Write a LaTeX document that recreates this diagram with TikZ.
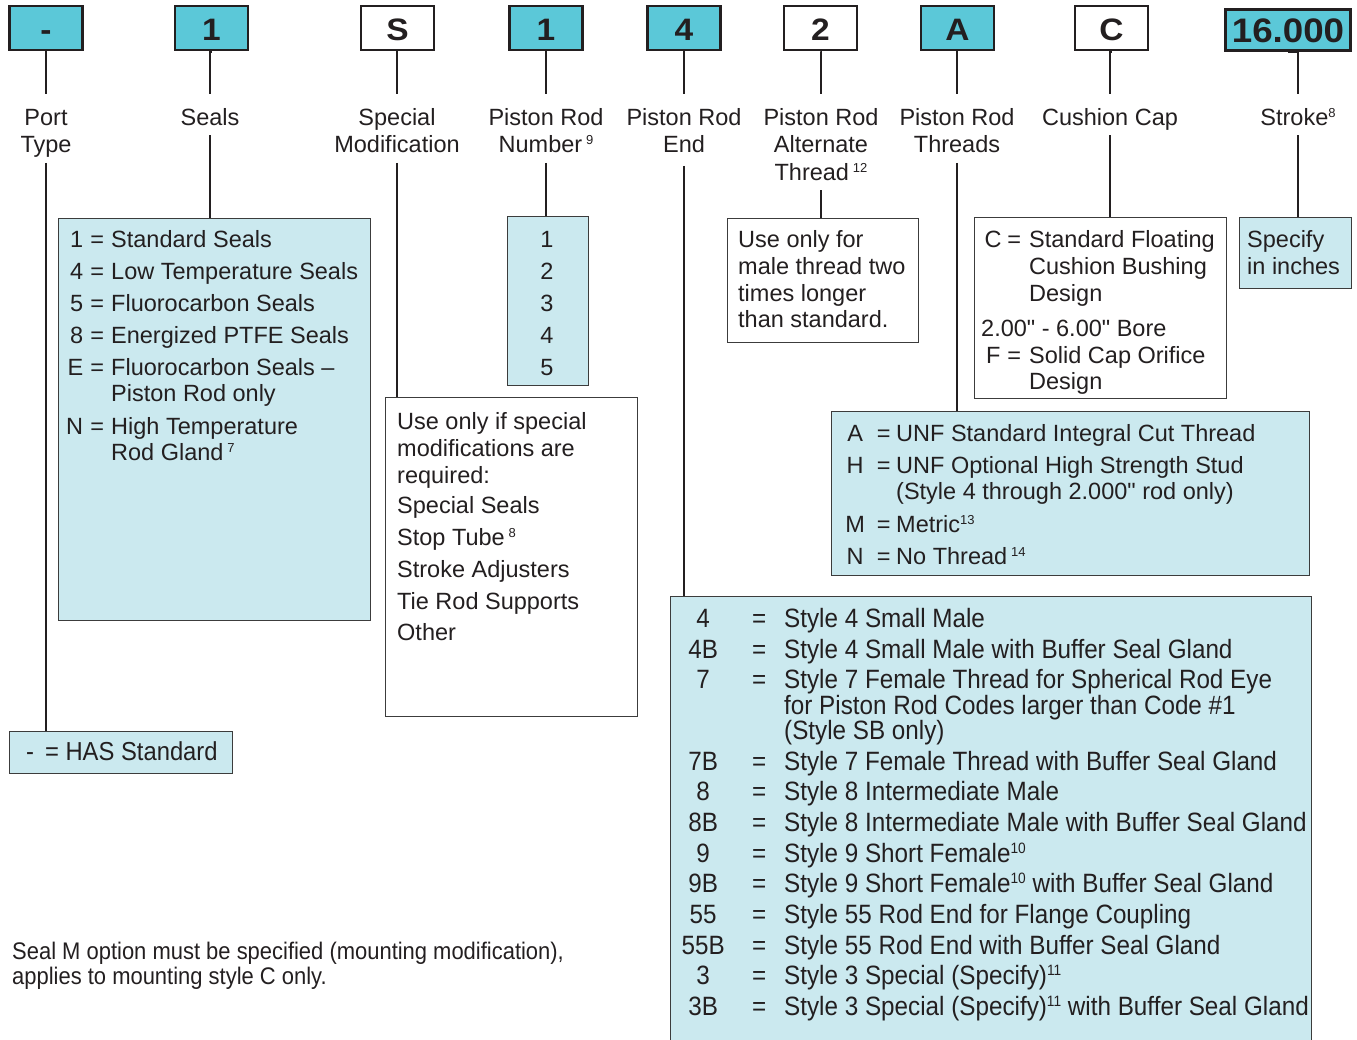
\documentclass[tikz,border=0pt]{standalone}
\usepackage{fontspec}
\setmainfont{Liberation Sans}
\newfontfamily\condfont[FakeStretch=0.915]{Liberation Sans}
\newfontfamily\codefont[FakeStretch=1.08]{Liberation Sans}
\newfontfamily\qfont[Ligatures=TeXOff]{Liberation Sans}
\definecolor{ink}{HTML}{231F20}
\definecolor{cyanD}{HTML}{5BC8D8}
\definecolor{lightc}{HTML}{CBE9EF}
\definecolor{boxline}{HTML}{3C3C3C}
\newcommand\lt{\rule{0pt}{31pt}}
\newcommand\lb{\rule[-10pt]{0pt}{10pt}}
\newcommand\qq{{\qfont"}}
\newcommand\sps[1]{\raisebox{8pt}{\fontsize{13}{13}\selectfont #1}}
\newcommand\csps[1]{\raisebox{9pt}{\fontsize{15}{15}\selectfont #1}}
\tikzset{
  conn/.style={draw=ink, line width=2.6pt},
  codebox/.style={draw=ink, line width=2.6pt, minimum width=73pt, minimum height=44pt,
    inner sep=0pt, text=ink, font=\codefont\bfseries\fontsize{31}{31}\selectfont,
    text height=26pt, text depth=0pt},
  hi/.style={fill=cyanD},
  lo/.style={fill=white},
  infobox/.style={draw=boxline, line width=1.3pt, inner sep=0pt, anchor=north west},
  lbl/.style={align=center, inner sep=0pt, text=ink, font=\fontsize{23.5}{27.5}\selectfont, anchor=north},
  txt/.style={anchor=base west, inner sep=0pt, text=ink, font=\fontsize{23.5}{27}\selectfont},
  ctxt/.style={anchor=base west, inner sep=0pt, text=ink, font=\condfont\fontsize{26.5}{30}\selectfont},
  ftxt/.style={anchor=base west, inner sep=0pt, text=ink, font=\condfont\fontsize{24}{25}\selectfont},
}
\newcommand\rrow[4]{\node[ctxt] (#1) at (680,#2) {\makebox[46pt]{#3}\hspace{25pt}\makebox[16pt]{=}\hspace{17pt}#4};}
\begin{document}
\begin{tikzpicture}[x=1pt,y=-1pt]
\useasboundingbox (0,0) rectangle (1357,1040);
\clip (0,0) rectangle (1357,1040);

% ---------- code boxes ----------
\node[codebox,hi] (c1) at (46,28) {-};
\node[codebox,hi] (c2) at (211.5,28) {1};
\node[codebox,lo] (c3) at (397.5,28) {S};
\node[codebox,hi] (c4) at (546,28) {1};
\node[codebox,hi] (c5) at (684,28) {4};
\node[codebox,lo] (c6) at (820.5,28) {2};
\node[codebox,hi] (c7) at (957.5,28) {A};
\node[codebox,lo] (c8) at (1111.5,28) {C};
\node[codebox,hi,minimum width=125pt,minimum height=41pt,font=\codefont\bfseries\fontsize{34}{34}\selectfont,text height=26pt] (c9) at (1288,30) {16.000};

% ---------- labels ----------
\node[lbl] (l1) at (46,94) {\lt Port\\Type\lb};
\node[lbl] (l2) at (210,94) {\lt Seals\lb};
\node[lbl] (l3) at (397,94) {\lt Special\\Modification\lb};
\node[lbl] (l4) at (546,94) {\lt Piston Rod\\Number\,\sps{9}\lb};
\node[lbl] (l5) at (684,94) {\lt Piston Rod\\End\rule[-13pt]{0pt}{13pt}};
\node[lbl] (l6) at (821,94) {\lt Piston Rod\\Alternate\\Thread\,\sps{12}\lb};
\node[lbl] (l7) at (957,94) {\lt Piston Rod\\Threads\lb};
\node[lbl] (l8) at (1110,94) {\lt Cushion Cap\lb};
\node[lbl] (l9) at (1298,94) {\lt Stroke\sps{8}\lb};

% ---------- info boxes ----------
\node[infobox,fill=lightc,minimum width=312pt,minimum height=402pt] (sealsbox) at (58,218) {};
\node[infobox,fill=lightc,minimum width=81pt,minimum height=169pt] (numbox) at (507,216) {};
\node[infobox,fill=white,minimum width=252pt,minimum height=319pt] (specbox) at (385,397) {};
\node[infobox,fill=lightc,minimum width=223pt,minimum height=42pt] (hasbox) at (9,731) {};
\node[infobox,fill=white,minimum width=191pt,minimum height=124pt] (altbox) at (727,218) {};
\node[infobox,fill=white,minimum width=252pt,minimum height=181pt] (cushbox) at (974,217) {};
\node[infobox,fill=lightc,minimum width=112pt,minimum height=71pt] (specifybox) at (1239,217) {};
\node[infobox,fill=lightc,minimum width=478pt,minimum height=164pt] (thrbox) at (831,411) {};
\node[infobox,fill=lightc,minimum width=641pt,minimum height=470pt] (rodbox) at (670,596) {};

% ---------- connectors ----------
\foreach \c/\l in {c1/l1,c2/l2,c3/l3,c4/l4,c5/l5,c6/l6,c7/l7,c8/l8,c9/l9}
  \draw[conn] (\c.south) -- (\l.north |- \c.south) -- (\l.north);
\draw[conn] (l1.south) -- (l1.south |- hasbox.north);
\draw[conn] (l2.south) -- (l2.south |- sealsbox.north);
\draw[conn] (l3.south) -- (l3.south |- specbox.north);
\draw[conn] (l4.south) -- (l4.south |- numbox.north);
\draw[conn] (l5.south) -- (l5.south |- rodbox.north);
\draw[conn] (l6.south) -- (l6.south |- altbox.north);
\draw[conn] (l7.south) -- (l7.south |- thrbox.north);
\draw[conn] (l8.south) -- (l8.south |- cushbox.north);
\draw[conn] (l9.south) -- (l9.south |- specifybox.north);

% ---------- Seals box text ----------
\node[txt] (s1) at (62,247.5) {\makebox[21pt][r]{1}\makebox[28pt]{=}Standard Seals};
\node[txt] (s2) at (62,279.5) {\makebox[21pt][r]{4}\makebox[28pt]{=}Low Temperature Seals};
\node[txt] (s3) at (62,311.5) {\makebox[21pt][r]{5}\makebox[28pt]{=}Fluorocarbon Seals};
\node[txt] (s4) at (62,343.5) {\makebox[21pt][r]{8}\makebox[28pt]{=}Energized PTFE Seals};
\node[txt] (s5) at (62,375.5) {\makebox[21pt][r]{E}\makebox[28pt]{=}Fluorocarbon Seals –};
\node[txt] (s5b) at (111,402) {Piston Rod only};
\node[txt] (s6) at (62,434) {\makebox[21pt][r]{N}\makebox[28pt]{=}High Temperature};
\node[txt] (s6b) at (111,460.5) {Rod Gland\,\sps{7}};

% ---------- piston rod numbers ----------
\foreach \n/\y in {1/247.5,2/279.5,3/311.5,4/343.5,5/375.5}
  \node[txt,anchor=base] (n\n) at (547,\y) {\n};

% ---------- special modification ----------
\node[txt] (m1) at (397,429) {Use only if special};
\node[txt] (m2) at (397,456) {modifications are};
\node[txt] (m3) at (397,483) {required:};
\node[txt] (m4) at (397,513.5) {Special Seals};
\node[txt] (m5) at (397,545.5) {Stop Tube\,\sps{8}};
\node[txt] (m6) at (397,577.5) {Stroke Adjusters};
\node[txt] (m7) at (397,609.5) {Tie Rod Supports};
\node[txt] (m8) at (397,640.5) {Other};

% ---------- HAS ----------
\node[ctxt,font=\condfont\fontsize{26}{30}\selectfont] (h1) at (26,760) {-\, = HAS Standard};

% ---------- alternate thread ----------
\node[txt] (a1) at (738,248) {Use only for};
\node[txt] (a2) at (738,275) {male thread two};
\node[txt] (a3) at (738,301.5) {times longer};
\node[txt] (a4) at (738,328) {than standard.};

% ---------- cushion ----------
\node[txt] (k1) at (981,248) {\makebox[24pt]{C}\makebox[18pt]{=}\hspace{6pt}Standard Floating};
\node[txt] (k2) at (1029,275) {Cushion Bushing};
\node[txt] (k3) at (1029,301.5) {Design};
\node[txt] (k4) at (981,336.5) {2.00\qq\ - 6.00\qq\ Bore};
\node[txt] (k5) at (981,363) {\makebox[24pt]{F}\makebox[18pt]{=}\hspace{6pt}Solid Cap Orifice};
\node[txt] (k6) at (1029,389.5) {Design};

% ---------- specify ----------
\node[txt] (p1) at (1247,248) {Specify};
\node[txt] (p2) at (1247,275) {in inches};

% ---------- threads ----------
\node[txt] (t1) at (838,441) {\makebox[34pt]{A}\makebox[23pt]{=}\hspace{1pt}UNF Standard Integral Cut Thread};
\node[txt] (t2) at (838,473) {\makebox[34pt]{H}\makebox[23pt]{=}\hspace{1pt}UNF Optional High Strength Stud};
\node[txt] (t2b) at (896,499.5) {(Style 4 through 2.000\qq\ rod only)};
\node[txt] (t3) at (838,532) {\makebox[34pt]{M}\makebox[23pt]{=}\hspace{1pt}Metric\sps{13}};
\node[txt] (t4) at (838,564) {\makebox[34pt]{N}\makebox[23pt]{=}\hspace{1pt}No Thread\,\sps{14}};

% ---------- rod end ----------
\rrow{r1}{627}{4}{Style 4 Small Male}
\rrow{r2}{658}{4B}{Style 4 Small Male with Buffer Seal Gland}
\rrow{r3}{688}{7}{Style 7 Female Thread for Spherical Rod Eye}
\node[ctxt] (r3b) at (784,714) {for Piston Rod Codes larger than Code \#1};
\node[ctxt] (r3c) at (784,739) {(Style SB only)};
\rrow{r4}{770}{7B}{Style 7 Female Thread with Buffer Seal Gland}
\rrow{r5}{800}{8}{Style 8 Intermediate Male}
\rrow{r6}{831}{8B}{Style 8 Intermediate Male with Buffer Seal Gland}
\rrow{r7}{862}{9}{Style 9 Short Female\csps{10}}
\rrow{r8}{892}{9B}{Style 9 Short Female\csps{10} with Buffer Seal Gland}
\rrow{r9}{923}{55}{Style 55 Rod End for Flange Coupling}
\rrow{r10}{954}{55B}{Style 55 Rod End with Buffer Seal Gland}
\rrow{r11}{984}{3}{Style 3 Special (Specify)\csps{11}}
\rrow{r12}{1015}{3B}{Style 3 Special (Specify)\csps{11} with Buffer Seal Gland}

% ---------- footnote ----------
\node[ftxt] (f1) at (12,959) {Seal M option must be specified (mounting modification),};
\node[ftxt] (f2) at (12,984) {applies to mounting style C only.};
\end{tikzpicture}
\end{document}
